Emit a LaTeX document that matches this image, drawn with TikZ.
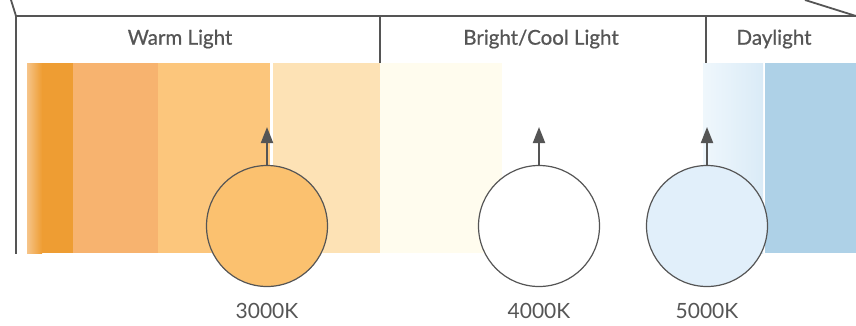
\documentclass[tikz,border=0pt]{standalone}
\usepackage{fontspec}
\setmainfont{Lato}
\newfontfamily\headfont{Lato}[BoldFont=Lato, BoldFeatures={FakeBold=0.7}]
\usetikzlibrary{arrows.meta}
\definecolor{ink}{HTML}{555555}
\definecolor{amber}{HTML}{EE9D33}
\definecolor{amberlight}{HTML}{F6C489}
\definecolor{peach}{HTML}{F7B36F}
\definecolor{apricot}{HTML}{FCC67C}
\definecolor{cream}{HTML}{FDE2B5}
\definecolor{ivory}{HTML}{FFFCEE}
\definecolor{skypale}{HTML}{EFF7FC}
\definecolor{skylight}{HTML}{DAEBF7}
\definecolor{sky}{HTML}{AED1E7}
\definecolor{bulbwarm}{HTML}{FBC16F}
\definecolor{bulbcool}{HTML}{E1EFFA}
\begin{document}
\begin{tikzpicture}[x=1pt, y=-1pt,
    frame/.style={draw=ink, line width=1.8pt},
    heading/.style={text=ink, font=\headfont\bfseries\fontsize{20.5}{24}\selectfont},
    kelvin/.style={text=ink, font=\fontsize{21}{24}\selectfont},
    bulb/.style={circle, draw=ink, line width=1.2pt, minimum size=121pt, inner sep=0pt},
    pointer/.style={draw=ink, line width=2pt, -{Triangle[length=16pt,width=12pt]}}]
    \useasboundingbox (0,0) rectangle (856,325);
    % colour bands
    \shade[left color=amberlight, right color=amber] (27,63) rectangle (42,253);
    \foreach \xa/\xb/\col in {42/73/amber, 73/158/peach, 158/270/apricot,
        273/380/cream, 380/502/ivory, 765/856/sky} {
        \fill[\col] (\xa,63) rectangle (\xb,253);
    }
    \shade[left color=skypale, right color=skylight] (703,63) rectangle (763,253);
    % frame
    \draw[frame] (11,0) -- (16,16) -- (856,16);
    \draw[frame] (805,0) -- (856,16);
    \draw[frame] (16,16) -- (16,254);
    \foreach \xd in {380,706} {
        \draw[frame] (\xd,16) -- (\xd,63);
    }
    \node[heading] (h-warm) at (180,39) {Warm Light};
    \node[heading] (h-cool) at (541,39) {Bright/Cool Light};
    \node[heading] (h-day) at (774,39) {Daylight};
    % bulbs
    \foreach[count=\i] \xc/\col/\lbl in {267/bulbwarm/3000K, 539/white/4000K, 707/bulbcool/5000K} {
        \node[bulb, fill=\col] (b-\i) at (\xc,226) {};
        \coordinate (t-\i) at (\xc,127);
        \draw[pointer] (b-\i.north) -- (t-\i);
        \node[kelvin] (k-\i) at (\xc,311) {\lbl};
    }
\end{tikzpicture}
\end{document}
